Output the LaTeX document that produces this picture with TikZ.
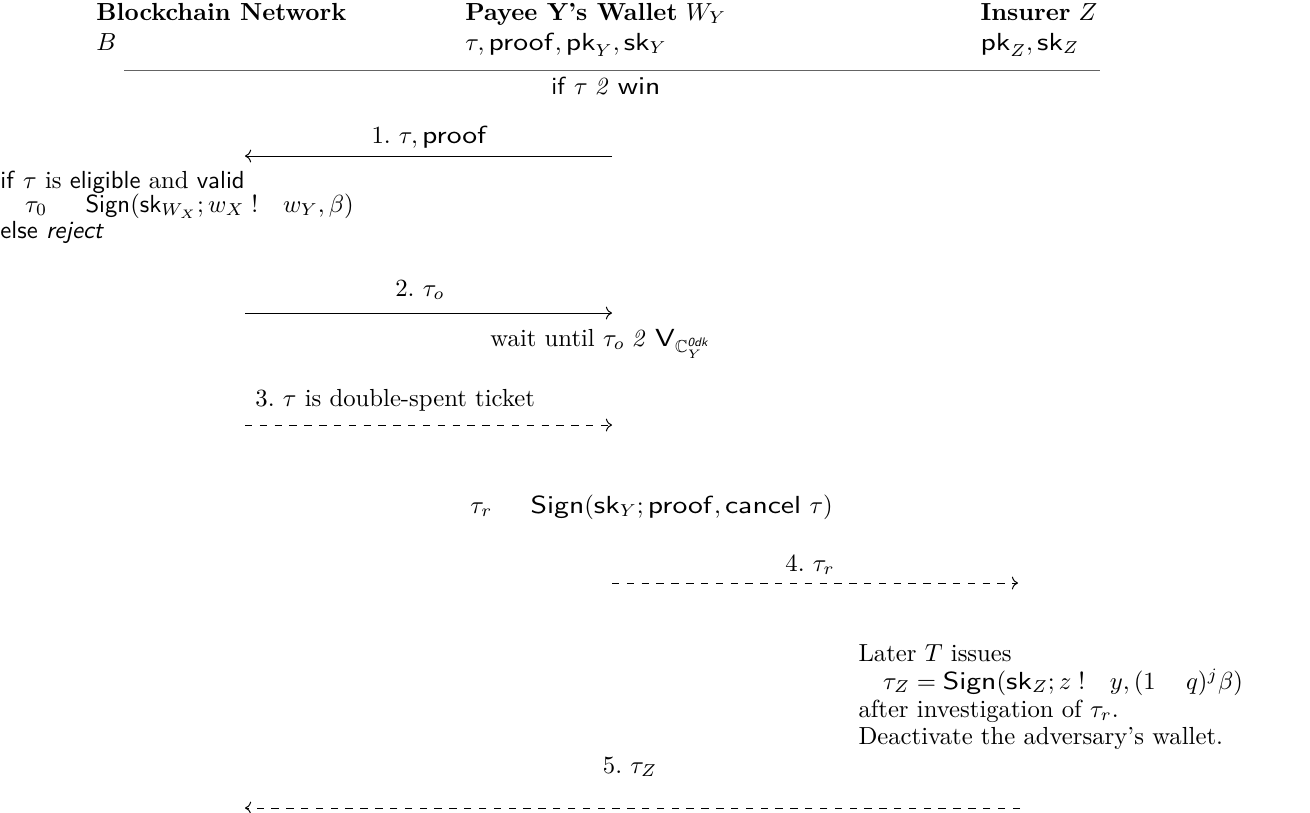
\documentclass[tikz,border=0pt]{standalone}
\usepackage{amsmath,amssymb}
\usepackage{graphicx}
\usepackage{tikz}
\usetikzlibrary{arrows.meta}

% glyphs as the picture prints them
\newcommand{\bkIn}{\mathrel{\rlap{$\mathit{2}$}\phantom{\in}}}
\newcommand{\bkTo}{\mathrel{\rlap{$\mathit{!}$}\phantom{\rightarrow}}}
\newcommand{\bkFrom}{\mathrel{\phantom{\leftarrow}}}
\newcommand{\bkMinus}{\mathbin{\phantom{-}}}
% wide math sans
\newcommand{\msf}[1]{\mbox{\scalebox{1.2}[1.0]{$\mathsf{#1}$}}}

\begin{document}
\begin{tikzpicture}[scale=1.0000]
	\tikzstyle{every node}=[scale=1.0000]
	\tikzstyle{txt}=[anchor=base west, inner sep=0pt]
	\tikzstyle{lbl}=[anchor=base, inner sep=0pt]
	\tikzstyle{msg}=[->]
	\tikzstyle{msgdash}=[->, dashed]

	\definecolor{a00rule}{RGB}{100,100,100}

	\useasboundingbox (0.0000,0.0000) rectangle (18.6344,-11.5505);

	%% parties
	\node [txt] (hdrB) at (1.3656,-0.2845) {\textbf{Blockchain Network}};
	\node [txt] (hdrW) at (6.6145,-0.2845) {\textbf{Payee Y's Wallet} $W_Y$};
	\node [txt] (hdrZ) at (13.9403,-0.2845) {\textbf{Insurer} $Z$};
	\node [txt] (keyB) at (1.3656,-0.7112) {$B$};
	\node [txt] (keyW) at (6.6145,-0.7112) {$\tau, \msf{proof}, \msf{pk}_Y, \msf{sk}_Y$};
	\node [txt] (keyZ) at (13.9403,-0.7112) {$\msf{pk}_Z, \msf{sk}_Z$};
	\coordinate (ruleL) at (1.7639,-0.9957);
	\coordinate (ruleR) at (15.6472,-0.9957);
	\draw [a00rule] (ruleL) -- (ruleR);

	%% step 1
	\node [lbl] (win) at (8.6200,-1.3371) {\textsf{if} $\tau \bkIn \msf{win}$};
	\node [lbl] (lbl1) at (6.1166,-2.0341) {$1.\ \tau, \msf{proof}$};
	\coordinate (a1s) at (8.7055,-2.2191);
	\coordinate (a1e) at (3.4851,-2.2191);
	\draw [msg] (a1s) -- (a1e);

	\node [txt] (chk1) at (0.0000,-2.6743) {\textsf{if} $\tau$ is \textsf{eligible} and \textsf{valid}};
	\node [txt] (chk2) at (0.0000,-3.0156) {\quad$\tau_0 \bkFrom \mathsf{Sign}(\mathsf{sk}_{W_X}; w_X \bkTo w_Y, \beta)$};
	\node [txt] (chk3) at (0.0000,-3.3855) {\textsf{else} \textsf{\textit{reject}}};

	%% step 2
	\node [lbl] (lbl2) at (5.9744,-4.2105) {$2.\ \tau_o$};
	\coordinate (a2s) at (3.4851,-4.4523);
	\coordinate (a2e) at (8.7055,-4.4523);
	\draw [msg] (a2s) -- (a2e);
	\node [txt] (wait) at (6.9701,-4.9218) {wait until $\tau_o \bkIn \msf{V}_{\mathbb{C}^{\text{\textsf{\textit{0dk}}}}_{Y}}$};

	%% step 3
	\node [txt] (lbl3) at (3.6273,-5.7752) {$3.\ \tau$ is double-spent ticket};
	\coordinate (a3s) at (3.4851,-6.0455);
	\coordinate (a3e) at (8.7055,-6.0455);
	\draw [msgdash] (a3s) -- (a3e);
	\node [txt] (cancel) at (6.6856,-7.2973) {$\tau_r \bkFrom \msf{Sign}(\msf{sk}_Y; \msf{proof}, \msf{cancel}\ \tau)$};

	%% step 4
	\node [lbl] (lbl4) at (11.5220,-8.1223) {$4.\ \tau_r$};
	\coordinate (a4s) at (8.7055,-8.2930);
	\coordinate (a4e) at (14.4808,-8.2930);
	\draw [msgdash] (a4s) -- (a4e);

	\node [txt] (ins1) at (12.2048,-9.4026) {Later $T$ issues};
	\node [txt] (ins2) at (12.2048,-9.8009) {\quad$\tau_Z = \msf{Sign}(\msf{sk}_Z; z \bkTo y, (1 \bkMinus q)^j\beta)$};
	\node [txt] (ins3) at (12.2048,-10.1992) {after investigation of $\tau_r$.};
	\node [txt] (ins4) at (12.2048,-10.5832) {Deactivate the adversary's wallet.};

	%% step 5
	\node [lbl] (lbl5) at (8.9616,-10.9957) {$5.\ \tau_Z$};
	\coordinate (a5s) at (14.5092,-11.4936);
	\coordinate (a5e) at (3.4851,-11.4936);
	\draw [msgdash] (a5s) -- (a5e);

\end{tikzpicture}
\end{document}
